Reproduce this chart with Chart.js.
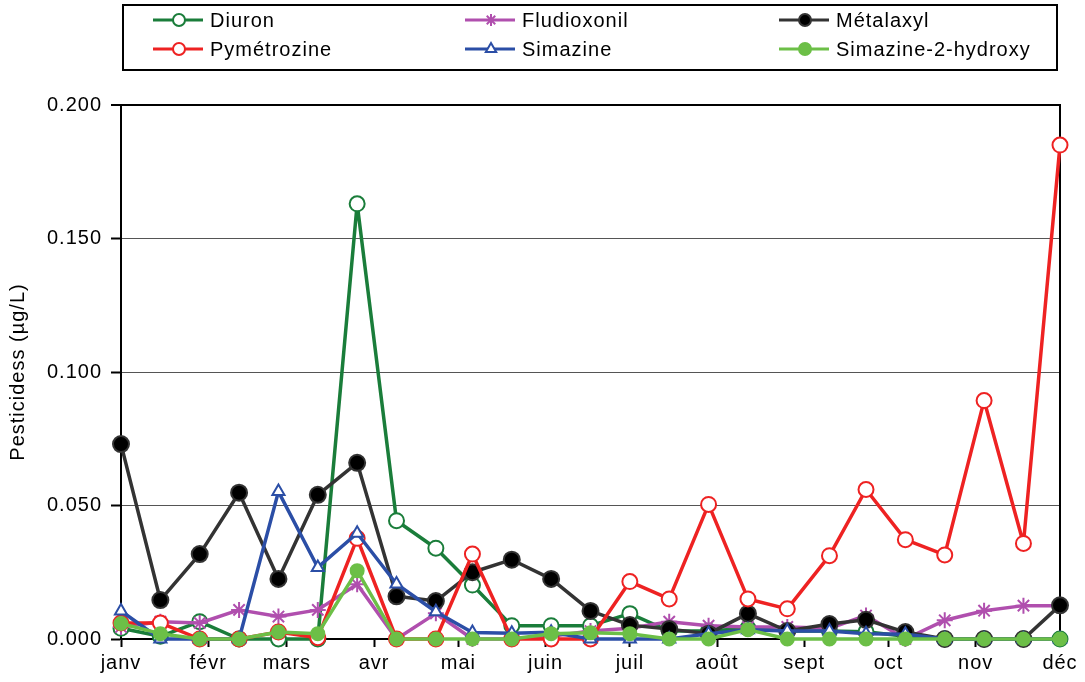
<!DOCTYPE html>
<html>
<head>
<meta charset="utf-8">
<script src="https://cdn.jsdelivr.net/npm/chart.js@4.4.1/dist/chart.umd.min.js"></script>
<style>
  html, body { margin: 0; padding: 0; background: #fff; }
  #wrap { width: 1085px; height: 682px; position: relative; }
</style>
</head>
<body>
<div id="wrap"><canvas id="pest-chart" width="1085" height="682"></canvas></div>
<script>
// sampling days (day of year, 0 = 1 janv)
var sampleDays = [0, 14, 28, 42, 56, 70, 84, 98, 112, 125, 139, 153, 167, 181, 195, 209, 223, 237, 252, 265, 279, 293, 307, 321, 334];

// month ticks
var monthDays = [0, 31, 59, 90, 120, 151, 181, 212, 243, 273, 304, 334];
var monthNames = ['janv', 'févr', 'mars', 'avr', 'mai', 'juin', 'juil', 'août', 'sept', 'oct', 'nov', 'déc'];

var yTicks = [0, 0.05, 0.1, 0.15, 0.2];

// series, µg/L
var diuron = [0.004, 0.001, 0.0065, 0, 0, 0, 0.163, 0.0443, 0.034, 0.0202, 0.005, 0.005, 0.005, 0.0095, 0.003, 0.003, 0.004, 0.003, 0.003, 0.0027, 0.001, 0, 0, 0, 0];
var fludioxonil = [0.0045, 0.0065, 0.006, 0.0109, 0.0084, 0.0109, 0.0205, 0, 0.0096, 0, 0, 0.001, 0.003, 0.004, 0.0065, 0.005, 0.0045, 0.0045, 0.004, 0.0088, 0, 0.007, 0.0106, 0.0125, 0.0125];
var metalaxyl = [0.073, 0.0146, 0.0318, 0.0548, 0.0225, 0.054, 0.066, 0.016, 0.0142, 0.025, 0.0297, 0.0225, 0.0105, 0.0052, 0.0037, 0.002, 0.0095, 0.003, 0.0056, 0.0072, 0.0026, 0, 0, 0, 0.0126];
var pymetrozine = [0.006, 0.006, 0, 0, 0.0026, 0.0005, 0.0377, 0, 0, 0.0318, 0, 0, 0, 0.0215, 0.015, 0.0504, 0.015, 0.0113, 0.0312, 0.056, 0.0372, 0.0315, 0.0893, 0.0358, 0.185];
var simazine = [0.0105, 0, 0, 0, 0.0552, 0.0268, 0.0396, 0.0206, 0.0102, 0.0024, 0.0022, 0.0025, 0, 0, 0, 0.002, 0.0035, 0.003, 0.003, 0.002, 0.0018, 0, 0, 0, 0];
var simazineOH = [0.0058, 0.002, 0, 0, 0.0026, 0.002, 0.0256, 0, 0, 0, 0, 0.002, 0.0023, 0.002, 0, 0, 0.0035, 0, 0, 0, 0, 0, 0, 0, 0];

var FONT = '"Liberation Sans", Arial, sans-serif';
var FSIZE = 20;
var SPACING = '1px';

function pts(vals) {
  return vals.map(function(v, i) { return { x: sampleDays[i], y: v }; });
}

function series(label, vals, color, style) {
  return Object.assign({
    label: label,
    data: pts(vals),
    borderColor: color,
    backgroundColor: color,
    borderWidth: 3.5,
    borderJoinStyle: 'round',
    pointBorderColor: color,
    pointBorderWidth: 2,
    pointRadius: 7,
    pointHoverRadius: 7,
    tension: 0,
    clip: false
  }, style);
}

var datasets = [
  series('Diuron', diuron, '#1a7d3a', { pointStyle: 'circle', pointBackgroundColor: '#ffffff', pointRadius: 7.5, order: 6 }),
  series('Fludioxonil', fludioxonil, '#b04fae', { pointStyle: 'star', pointRadius: 8, order: 5 }),
  series('Métalaxyl', metalaxyl, '#333333', { pointStyle: 'circle', pointBackgroundColor: '#000000', pointBorderColor: '#333333', pointRadius: 8, order: 4 }),
  series('Pymétrozine', pymetrozine, '#ee2222', { pointStyle: 'circle', pointBackgroundColor: '#ffffff', pointRadius: 7.5, order: 3 }),
  series('Simazine', simazine, '#2b4ea6', { pointStyle: 'triangle', pointBackgroundColor: '#ffffff', pointRadius: 7, order: 2 }),
  series('Simazine-2-hydroxy', simazineOH, '#6cbf47', { pointStyle: 'circle', pointBackgroundColor: '#6cbf47', pointRadius: 6.5, order: 1 })
];

// letter spacing like the original (Excel spreads its text)
var spacingPlugin = {
  id: 'spacing',
  beforeUpdate: function(chart) { chart.ctx.letterSpacing = SPACING; },
  beforeLayout: function(chart) { chart.ctx.letterSpacing = SPACING; },
  beforeDraw: function(chart) { chart.ctx.letterSpacing = SPACING; }
};

// top + right border of plot area
var borderPlugin = {
  id: 'plotBorder',
  beforeDatasetsDraw: function(chart) {
    var a = chart.chartArea, c = chart.ctx;
    c.save();
    c.strokeStyle = '#000';
    c.lineWidth = 2;
    c.beginPath();
    c.moveTo(a.left, a.top);
    c.lineTo(a.right, a.top);
    c.lineTo(a.right, a.bottom);
    c.stroke();
    c.restore();
  }
};

// legend box, 2 rows x 3 cols
var legendPlugin = {
  id: 'boxLegend',
  afterDraw: function(chart) {
    var c = chart.ctx;
    var colX = [153, 465, 779];
    var rowY = [20, 49];
    c.save();
    c.letterSpacing = SPACING;
    c.strokeStyle = '#000';
    c.lineWidth = 2;
    c.strokeRect(123, 5, 934, 65);
    chart.data.datasets.forEach(function(ds, i) {
      var x = colX[i % 3], y = rowY[Math.floor(i / 3)];
      c.strokeStyle = ds.borderColor;
      c.lineWidth = 3;
      c.beginPath();
      c.moveTo(x, y);
      c.lineTo(x + 50, y);
      c.stroke();
      c.fillStyle = ds.pointBackgroundColor || ds.backgroundColor;
      c.strokeStyle = ds.pointBorderColor;
      c.lineWidth = 2;
      Chart.helpers.drawPoint(c, { pointStyle: ds.pointStyle, radius: 6, borderWidth: 2, rotation: 0 }, x + 26, y);
      c.fillStyle = '#000';
      c.font = FSIZE + 'px ' + FONT;
      c.textBaseline = 'middle';
      c.textAlign = 'left';
      c.fillText(ds.label, x + 57, y + 1);
    });
    c.restore();
  }
};

var ctx = document.getElementById('pest-chart');

var myChart = new Chart(ctx, {
  type: 'line',
  data: { datasets: datasets },
  plugins: [spacingPlugin, borderPlugin, legendPlugin],
  options: {
    responsive: false,
    animation: false,
    devicePixelRatio: 1,
    layout: { padding: { top: 105, right: 25, bottom: 0, left: 0 } },
    plugins: {
      legend: { display: false },
      tooltip: { enabled: false }
    },
    scales: {
      x: {
        type: 'linear',
        min: 0,
        max: 334,
        afterBuildTicks: function(axis) {
          axis.ticks = monthDays.map(function(d) { return { value: d }; });
        },
        afterFit: function(scale) { scale.height = 43; },
        ticks: {
          autoSkip: false,
          maxRotation: 0,
          padding: 4,
          color: '#000',
          font: { family: FONT, size: FSIZE },
          callback: function(v) {
            var k = monthDays.indexOf(v);
            return k >= 0 ? monthNames[k] : '';
          }
        },
        grid: {
          drawOnChartArea: false,
          drawTicks: true,
          tickLength: 8,
          tickWidth: 2,
          tickColor: '#000'
        },
        border: { color: '#000', width: 2 }
      },
      y: {
        min: 0,
        max: 0.2,
        afterBuildTicks: function(axis) {
          axis.ticks = yTicks.map(function(v) { return { value: v }; });
        },
        afterFit: function(scale) { scale.width = 121; },
        ticks: {
          padding: 9,
          color: '#000',
          font: { family: FONT, size: FSIZE },
          callback: function(v) { return v.toFixed(3); }
        },
        grid: {
          color: function(c) { return c.tick && c.tick.value >= 0.2 ? '#000' : '#555'; },
          lineWidth: function(c) { return c.tick && c.tick.value >= 0.2 ? 2 : 1; },
          tickLength: 10,
          tickWidth: 2,
          tickColor: '#000'
        },
        border: { color: '#000', width: 2 },
        title: {
          display: true,
          text: 'Pesticidess (µg/L)',
          color: '#000',
          font: { family: FONT, size: FSIZE },
          padding: { top: 6, bottom: 0 }
        }
      }
    }
  }
});
</script>
</body>
</html>
